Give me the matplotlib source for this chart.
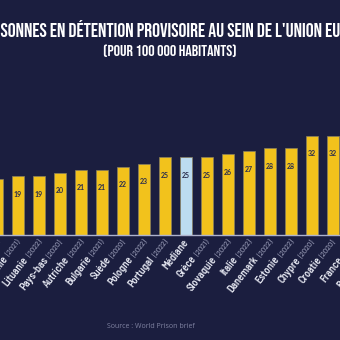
import matplotlib
matplotlib.use('Agg')
import numpy as np
import matplotlib.pyplot as plt

# Détention provisoire pour 100 000 habitants (source : World Prison Brief)
pays = ['Irlande', 'Slovénie', 'Lituanie', 'Pays-bas', 'Autriche', 'Bulgarie',
        'Suède', 'Pologne', 'Portugal', 'Médiane', 'Grèce', 'Slovaquie',
        'Italie', 'Danemark', 'Estonie', 'Chypre', 'Croatie', 'France', 'Belgique']
annees = ['(2022)', '(2021)', '(2022)', '(2020)', '(2022)', '(2021)',
          '(2020)', '(2022)', '(2022)', '', '(2021)', '(2022)',
          '(2022)', '(2022)', '(2022)', '(2020)', '(2020)', '(2022)', '(2022)']
valeurs = [18, 19, 19, 20, 21, 21, 22, 23, 25, 25, 25, 26, 27, 28, 28, 32, 32, 33, 35]

fond = '#1b1e3f'
jaune = '#f2c21c'
bleu = '#bcdcf0'

W = H = 340
fig = plt.figure(figsize=(3.4, 3.4), dpi=100, facecolor=fond)
ax = fig.add_axes([-13.5 / W, 105 / H, 399 / W, 124 / H])
ax.set_facecolor(fond)
ax.set_xlim(-0.5, len(pays) - 0.5)
ax.set_ylim(0, 40)
for s in ax.spines.values():
    s.set_visible(False)
ax.set_xticks([])
ax.set_yticks([])

x = np.arange(len(pays))
couleurs = [bleu if p == 'Médiane' else jaune for p in pays]
ax.bar(x, valeurs, width=0.57, color=couleurs, edgecolor='#8a8060', linewidth=0.5)
ax.axhline(0, color='#aeb2cc', lw=1.0, clip_on=False)

for xi, v in zip(x, valeurs):
    ax.annotate(str(v), (xi, v), xytext=(0, -18), textcoords='offset pixels',
                ha='center', va='center', fontsize=5, fontweight='bold',
                family='Lato', color='#2b2e4d')

# étiquettes inclinées : pays en blanc puis année en gris
etiq = dict(family=['Barlow Semi Condensed', 'Lato'], fontweight=600)
angle = 52
rad = np.deg2rad(angle)
fig.canvas.draw()
renderer = fig.canvas.get_renderer()
for xi, p, a in zip(x, pays, annees):
    fin = (3, -7)
    if a:
        t = ax.annotate(a, (xi, 0), xytext=fin, textcoords='offset pixels',
                        ha='right', va='baseline', fontsize=6, family=etiq['family'],
                        color='#aeb1cb', rotation=0)
        w = t.get_window_extent(renderer).width + 2.5
        t.set_rotation(angle)
        t.set_rotation_mode('anchor')
        fin = (fin[0] - w * np.cos(rad), fin[1] - w * np.sin(rad))
    ax.annotate(p, (xi, 0), xytext=fin, textcoords='offset pixels',
                ha='right', va='baseline', fontsize=7.6, color='#e6e8f2',
                rotation=angle, rotation_mode='anchor', **etiq)

# titre en police étroite, taille ajustée à la largeur visible
police = dict(family=['Bebas Neue', 'Barlow Condensed'], fontweight=600)
titre = "PERSONNES EN DÉTENTION PROVISOIRE AU SEIN DE L'UNION EUROPÉENNE"
t = fig.text(0, 0, "SONNES EN DÉTENTION PROVISOIRE AU SEIN DE L'UNION E",
             fontsize=10, **police)
taille = 10 * 338 / t.get_window_extent(renderer).width
t.set_text('PER')
t.set_fontsize(taille)
decal = t.get_window_extent(renderer).width
t.remove()
fig.text(-decal / W, 1 - 29 / H, titre, ha='left', va='center', fontsize=taille,
         color='white', **police)

t = fig.text(0, 0, '(POUR 100 000 HABITANTS)', fontsize=10, **police)
taille2 = 10 * 135 / t.get_window_extent(renderer).width
t.remove()
fig.text(170 / W, 1 - 51 / H, '(POUR 100 000 HABITANTS)', ha='center', va='center',
         fontsize=taille2, color='white', **police)
fig.text(151 / W, 1 - 327 / H, 'Source : World Prison brief', ha='center',
         va='center', fontsize=5, family=['Open Sans', 'Lato'], color='#8083a2')

fig.savefig('out.png', dpi=100, facecolor=fond)
